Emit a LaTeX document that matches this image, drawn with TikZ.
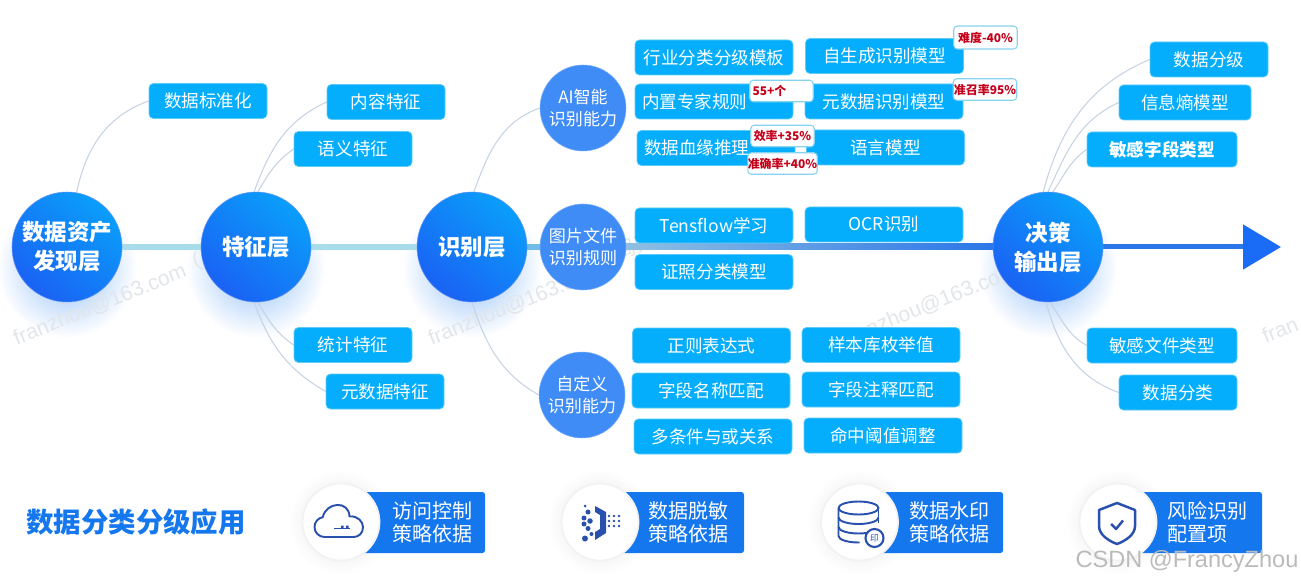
\documentclass[tikz,border=0pt]{standalone}
\usepackage{fontspec}
\setmainfont{Noto Sans CJK SC}
\newfontfamily\markfont{Liberation Sans}
\usetikzlibrary{arrows.meta,backgrounds}
\definecolor{ink}{HTML}{2A50AE}
\definecolor{layerlight}{HTML}{0A9EFA}
\definecolor{layerdeep}{HTML}{1A62F4}
\definecolor{subfill}{HTML}{3F8CF6}
\definecolor{cellfill}{HTML}{05AEFC}
\definecolor{cellline}{HTML}{5CCBF8}
\definecolor{barfill}{HTML}{1477EE}
\definecolor{twig}{HTML}{C6D3E2}
\definecolor{trunkpale}{HTML}{A9DCEB}
\definecolor{trunkmid}{HTML}{6FBBEA}
\definecolor{trunkgrey}{HTML}{8FC0E2}
\definecolor{trunkblue}{HTML}{2B76E8}
\definecolor{tipblue}{HTML}{1A6CF6}
\definecolor{tagred}{HTML}{C4001A}
\definecolor{tagline}{HTML}{86D3EF}
\definecolor{glowblue}{HTML}{8FBEF8}
\definecolor{watermark}{HTML}{E2E5E9}
\newcommand{\ten}{\fontsize{10}{12}\selectfont}
\tikzset{
 every node/.append style={font=\ten,align=center,inner sep=0pt},
 layer/.style={circle,minimum size=2.2cm,top color=layerlight,bottom color=layerdeep,shading angle=-40,
   draw=layerdeep!70,line width=.3pt,text=white,font=\fontsize{12.8}{16.5}\selectfont\bfseries},
 sub/.style={circle,minimum size=1.72cm,fill=subfill,draw=subfill!70!white,line width=.3pt,text=white,
   font=\fontsize{9.7}{12}\selectfont},
 cell/.style={rectangle,fill=cellfill,draw=cellline,line width=.4pt,rounded corners=2.5pt,text=white,
   minimum width=3.16cm,minimum height=.7cm},
 short/.style={cell,minimum width=2.36cm},
 shifted/.style={cell,text width=2.88cm,align=left},
 tag/.style={rectangle,fill=white,draw=tagline,line width=.6pt,rounded corners=2pt,text=tagred,
   minimum width=1.27cm,minimum height=.43cm,font=\fontsize{6.8}{8}\selectfont\bfseries},
 bar/.style={rectangle,fill=barfill,rounded corners=1.5pt,minimum width=2.88cm,minimum height=1.22cm},
 bartext/.style={text=white,text width=1.62cm,align=left,font=\fontsize{11.4}{13.2}\selectfont},
 disc/.style={circle,fill=white,draw=black!5,line width=1pt,minimum size=1.54cm},
 curve/.style={draw=twig,line width=.6pt},
 trunk/.style={draw=trunkpale,line width=.12cm},
 outflow/.style={-{Triangle[length=.76cm,width=.88cm,color=tipblue]},draw=trunkblue,line width=.1cm},
 icon/.style={draw=ink,line width=1.1pt,line join=round},
 wmark/.style={text=watermark,rotate=22,font=\markfont\fontsize{12}{14}\selectfont},
 wname/.style={text=watermark,rotate=22,font=\fontsize{12}{14}\selectfont},
}

\begin{document}
\begin{tikzpicture}
\useasboundingbox (0,0) rectangle (26.02,-11.64);

\node[layer] (asset) at (1.34,-4.94) {数据资产\\发现层};
\node[layer] (feature) at (5.12,-4.94) {特征层};
\node[layer] (recog) at (9.44,-4.94) {识别层};
\node[layer] (decision) at (20.96,-4.94) {决策\\输出层};
\coordinate (outtip) at (25.62,-4.94);

\node[sub] (ai) at (11.66,-2.16) {AI智能\\识别能力};
\node[sub] (imagerule) at (11.66,-4.94) {图片文件\\识别规则};
\node[sub] (custom) at (11.64,-7.90) {自定义\\识别能力};

\node[short] (standard) at (4.16,-2.02) {数据标准化};
\node[short] (content) at (7.72,-2.04) {内容特征};
\node[short] (semantic) at (7.06,-2.98) {语义特征};
\node[short] (statistic) at (7.06,-6.90) {统计特征};
\node[short] (metafeature) at (7.70,-7.83) {元数据特征};

\node[cell] (template) at (14.28,-1.15) {行业分类分级模板};
\node[cell] (selfgen) at (17.69,-1.12) {自生成识别模型};
\node[shifted] (expert) at (14.28,-2.03) {内置专家规则};
\node[cell] (metamodel) at (17.68,-2.03) {元数据识别模型};
\node[shifted] (lineage) at (14.32,-2.96) {数据血缘推理};
\node[cell] (language) at (17.71,-2.95) {语言模型};

\node[cell] (tensflow) at (14.28,-4.51) {Tensflow学习};
\node[cell] (ocr) at (17.68,-4.49) {OCR识别};
\node[cell] (license) at (14.28,-5.44) {证照分类模型};

\node[cell] (regex) at (14.23,-6.91) {正则表达式};
\node[cell] (sample) at (17.62,-6.90) {样本库枚举值};
\node[cell] (fieldname) at (14.22,-7.81) {字段名称匹配};
\node[cell] (fieldnote) at (17.62,-7.79) {字段注释匹配};
\node[cell] (multi) at (14.26,-8.73) {多条件与或关系};
\node[cell] (threshold) at (17.66,-8.71) {命中阈值调整};

\node[short] (grade) at (24.18,-1.19) {数据分级};
\node[cell,minimum width=2.64cm] (entropy) at (23.70,-2.05) {信息熵模型};
\node[cell,minimum width=3cm,font=\ten\bfseries] (fieldtype) at (23.24,-2.99) {敏感字段类型};
\node[cell,minimum width=3cm] (filetype) at (23.24,-6.91) {敏感文件类型};
\node[short] (classify) at (23.56,-7.85) {数据分类};

\node[tag,minimum height=.46cm] (hardtag) at (19.71,-.75) {难度-40\%};
\node[tag] (recalltag) at (19.70,-1.79) {准召率95\%};
\node[tag,text width=1.16cm,align=left] (counttag) at (15.63,-1.82) {55+个};
\node[tag] (efficiencytag) at (15.65,-2.72) {效率+35\%};
\node[tag] (accuracytag) at (15.65,-3.27) {准确率+40\%};

\node[font=\fontsize{15.6}{18}\selectfont\bfseries,text=barfill] (apply) at (2.72,-10.44) {数据分类分级应用};

\node[bar] (accessbar) at (8.26,-10.45) {};
\node[bar] (maskbar) at (13.44,-10.45) {};
\node[bar] (printbar) at (18.62,-10.45) {};
\node[bar] (riskbar) at (23.80,-10.45) {};
\node[bartext] (accesstext) at (8.66,-10.45) {访问控制\\策略依据};
\node[bartext] (masktext) at (13.78,-10.45) {数据脱敏\\策略依据};
\node[bartext] (printtext) at (19.0,-10.45) {数据水印\\策略依据};
\node[bartext] (risktext) at (24.16,-10.45) {风险识别\\配置项};
\node[disc] (accessdisc) at (6.82,-10.44) {};
\node[disc] (maskdisc) at (12.0,-10.44) {};
\node[disc] (printdisc) at (17.19,-10.44) {};
\node[disc] (riskdisc) at (22.36,-10.44) {};

\begin{scope}[shift={(accessdisc.center)}]
\draw[icon] (-.33,-.30) arc[start angle=270,end angle=100,radius=.2]
  .. controls (-.30,.40) and (.16,.44) .. (.17,.11)
  .. controls (.34,.13) and (.44,.0) .. (.44,-.10)
  .. controls (.44,-.23) and (.35,-.30) .. (.25,-.30) -- cycle;
\draw[icon,line width=.9pt] (-.14,-.13) -- (.17,-.13);
\fill[ink] (.0,-.13) rectangle (.05,-.07) (.1,-.13) rectangle (.15,-.07);
\end{scope}

\begin{scope}[shift={(maskdisc.center)}]
\fill[ink] (-.1,.32) -- (.12,.2) -- (.12,-.22) -- (-.1,-.36) -- (-.1,-.2) -- (0,-.14) -- (0,.14) -- (-.1,.2) -- cycle;
\foreach \dx/\dy/\dr in {-.3/.32/.03,-.24/.2/.05,-.32/.08/.05,-.2/.02/.055,-.32/-.04/.05,-.24/-.13/.05,-.3/-.33/.06,-.17/-.24/.04} {
  \fill[ink] (\dx,\dy) circle (\dr);
}
\foreach \dx in {.08,.18,.28,.38} {
  \foreach \dy in {-.08,.02,.12} {
    \fill[ink] (\dx,\dy) circle (.026);
  }
}
\end{scope}

\begin{scope}[shift={(printdisc.center)}]
\draw[icon] (-.42,.28) arc[start angle=180,end angle=-180,x radius=.4,y radius=.13];
\draw[icon] (-.42,.28) -- (-.42,-.28) arc[start angle=180,end angle=270,x radius=.4,y radius=.13] -- (.0,-.41);
\draw[icon] (.38,.28) -- (.38,-.02);
\draw[icon] (-.42,.09) arc[start angle=180,end angle=360,x radius=.4,y radius=.13];
\draw[icon] (-.42,-.1) arc[start angle=180,end angle=320,x radius=.4,y radius=.13];
\node[circle,fill=white,draw=ink,line width=1.2pt,minimum size=.36cm,text=ink,font=\fontsize{5}{6}\selectfont] (stamp) at (.3,-.32) {印};
\end{scope}

\begin{scope}[shift={(riskdisc.center)}]
\draw[icon,line width=1.4pt] (-.02,.38) -- (.34,.24) -- (.34,-.08) .. controls (.34,-.26) and (.14,-.38) .. (-.02,-.44)
  .. controls (-.18,-.38) and (-.38,-.26) .. (-.38,-.08) -- (-.38,.24) -- cycle;
\draw[icon,line width=1.4pt] (-.14,-.04) -- (-.04,-.14) -- (.1,.03);
\end{scope}

\begin{scope}[on background layer]
\foreach \n in {asset,feature,recog,decision} {
  \shade[inner color=glowblue,outer color=white] ([yshift=-.42cm]\n.center) circle (1.4cm);
}
\foreach \n in {accessdisc,maskdisc,printdisc,riskdisc} {
  \shade[inner color=black!12,outer color=white] (\n.center) circle (1.05cm);
}
\node[wmark] (mark1) at (2.0,-6.1) {franzhou@163.com};
\node[wname] (name1) at (4.42,-5.04) {（周芳）};
\node[wmark] (mark2) at (10.3,-6.1) {franzhou@163.com};
\node[wname] (name2) at (12.7,-4.9) {（周芳）};
\node[wmark] (mark3) at (18.6,-6.1) {franzhou@163.com};
\node[wmark] (mark4) at (25.6,-6.6) {fran};
\draw[trunk] (asset) -- (feature);
\draw[trunk] (feature) -- (recog);
\draw[trunk,draw=trunkmid] (recog) -- (imagerule);
\draw[trunk,draw=trunkgrey] (imagerule) -- (decision);
\shade[left color=trunkgrey,right color=trunkblue] ([yshift=-.06cm]imagerule.east) rectangle ([yshift=.06cm]decision.west);
\draw[outflow] (decision) -- (outtip);
\draw[curve] (asset.80) to[out=78,in=200] (standard.west);
\draw[curve] (feature.92) to[out=70,in=205] (content.west);
\draw[curve] (feature.88) to[out=60,in=215] (semantic.west);
\draw[curve] (feature.-92) to[out=-70,in=150] (metafeature.west);
\draw[curve] (feature.-88) to[out=-60,in=145] (statistic.west);
\draw[curve] (recog.88) to[out=70,in=200] (ai.west);
\draw[curve] (recog.-90) to[out=-72,in=150] (custom.west);
\draw[curve] (decision.95) to[out=75,in=203] (grade.west);
\draw[curve] (decision.90) to[out=65,in=205] (entropy.west);
\draw[curve] (decision.85) to[out=55,in=215] (fieldtype.west);
\draw[curve] (decision.-88) to[out=-55,in=150] (filetype.west);
\draw[curve] (decision.-92) to[out=-75,in=160] (classify.west);
\end{scope}

\node[text=black!27,font=\markfont\fontsize{13.4}{16}\selectfont] (csdn) at (23.74,-11.22) {CSDN @FrancyZhou};
\end{tikzpicture}
\end{document}
